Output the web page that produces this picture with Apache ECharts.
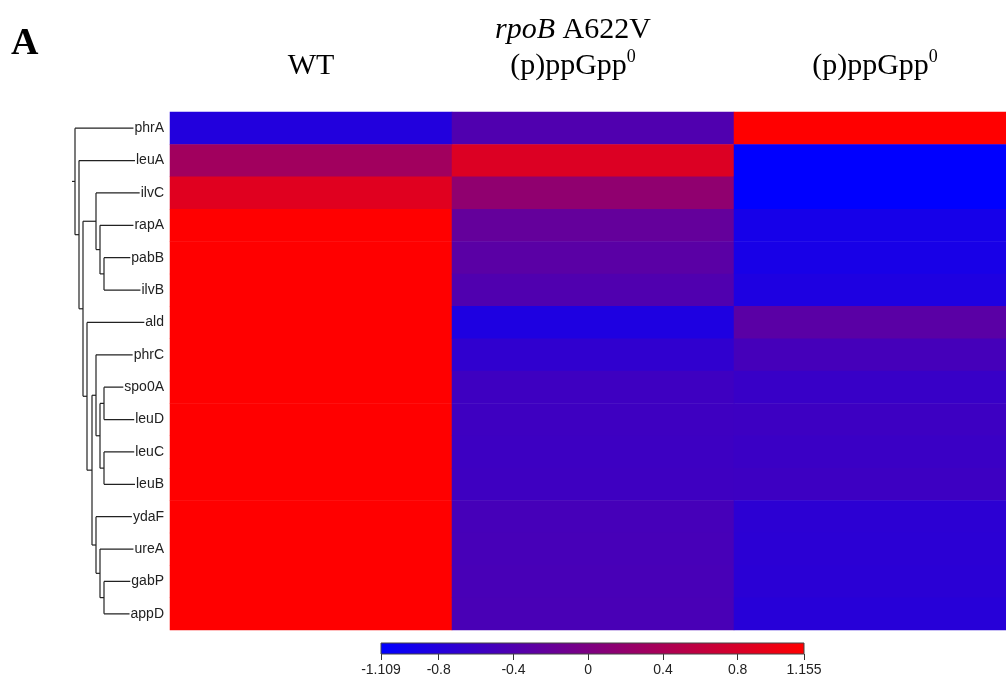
<!DOCTYPE html>
<html>
<head>
<meta charset="utf-8">
<script src="https://cdn.jsdelivr.net/npm/echarts@6/dist/echarts.min.js"></script>
<style>
  html, body { margin: 0; padding: 0; background: #fff; }
  #heat { width: 1006px; height: 681px; }
</style>
</head>
<body>
<div id="heat"></div>
<script>
// genes, top to bottom
var genes = ["phrA", "leuA", "ilvC", "rapA", "pabB", "ilvB", "ald", "phrC",
  "spo0A", "leuD", "leuC", "leuB", "ydaF", "ureA", "gabP", "appD"];
var strains = ["WT", "rpoB", "ppGpp0"];
var strainLabels = ["WT", "{i|rpoB} A622V\n(p)ppGpp{s|0}", "(p)ppGpp{s|0}"];

// expression values per strain (same order as genes)
var wtVals = [-0.81, 0.32, 0.88, 1.155, 1.155, 1.155, 1.155, 1.155,
  1.155, 1.155, 1.155, 1.155, 1.155, 1.155, 1.155, 1.155];
var rpoBVals = [-0.40, 0.84, 0.17, -0.22, -0.31, -0.40, -0.84, -0.68,
  -0.56, -0.56, -0.57, -0.56, -0.49, -0.48, -0.47, -0.46];
var ppGppVals = [1.155, -1.109, -1.109, -0.91, -0.90, -0.84, -0.31, -0.50,
  -0.61, -0.57, -0.59, -0.57, -0.72, -0.73, -0.74, -0.76];

var vMin = -1.109, vMax = 1.155;
var barTicks = [-1.109, -0.8, -0.4, 0, 0.4, 0.8, 1.155];

// row dendrogram, scipy style: leaves 0..15, clusters numbered from 16
var merges = [
  [4, 5, 0.61], [3, 16, 0.65], [2, 17, 0.69],
  [8, 9, 0.61], [10, 11, 0.61], [19, 20, 0.65], [7, 21, 0.69],
  [14, 15, 0.61], [13, 23, 0.65], [12, 24, 0.69],
  [22, 25, 0.73], [6, 26, 0.78], [18, 27, 0.82], [1, 28, 0.86], [0, 29, 0.90]
];
var rootStub = 0.93;

var heatData = [];
[wtVals, rpoBVals, ppGppVals].forEach(function (arr, c) {
  arr.forEach(function (v, r) {
    heatData.push([c, r, v]);
  });
});

// turn merges into line segments [h1, y1, h2, y2]
var nodeY = genes.map(function (g, i) { return i; });
var nodeH = genes.map(function () { return 0; });
var segs = [];
merges.forEach(function (m) {
  var a = m[0], b = m[1], h = m[2];
  segs.push([nodeH[a], nodeY[a], h, nodeY[a]]);
  segs.push([nodeH[b], nodeY[b], h, nodeY[b]]);
  segs.push([h, nodeY[a], h, nodeY[b]]);
  nodeY.push((nodeY[a] + nodeY[b]) / 2);
  nodeH.push(h);
});
var root = nodeY.length - 1;
segs.push([nodeH[root], nodeY[root], rootStub, nodeY[root]]);

var serif = '"Liberation Serif", "Times New Roman", serif';
var sans = '"Liberation Sans", Arial, sans-serif';

var myChart = echarts.init(document.getElementById("heat"));
var option = {
  animation: false,
  graphic: [
    {
      type: "text",
      left: 11,
      top: 25,
      style: { text: "A", font: "bold 38px " + serif, fill: "#000" },
    },
  ],
  grid: [
    // the third column runs past the right edge of the picture
    { left: 170, top: 112, height: 518, width: 846, outerBoundsMode: "none" },
    { left: 55, top: 112, height: 518, width: 110, outerBoundsMode: "none" },
    { left: 381, top: 643, height: 11, width: 423, outerBoundsMode: "none" },
  ],
  xAxis: [
    {
      type: "category",
      gridIndex: 0,
      position: "top",
      data: [
        strains[0],
        { value: strains[1], textStyle: { padding: [0, 40, 0, 0] } },
        strains[2],
      ],
      axisLine: { show: false },
      axisTick: { show: false },
      axisLabel: {
        margin: 28,
        fontFamily: serif,
        fontSize: 30,
        lineHeight: 36,
        color: "#000",
        formatter: function (v, i) {
          return strainLabels[i];
        },
        rich: {
          i: { fontFamily: serif, fontSize: 30, fontStyle: "italic", color: "#000", lineHeight: 36 },
          s: { fontFamily: serif, fontSize: 18, color: "#000", verticalAlign: "top", lineHeight: 22 },
        },
      },
    },
    { type: "value", gridIndex: 1, min: 0, max: 1.1, inverse: true, show: false },
    {
      type: "value",
      gridIndex: 2,
      min: vMin,
      max: vMax,
      axisLine: { show: false },
      splitLine: { show: false },
      axisTick: {
        customValues: barTicks,
        length: 6,
        lineStyle: { color: "#333" },
      },
      axisLabel: {
        customValues: barTicks,
        margin: 9,
        fontFamily: sans,
        fontSize: 14,
        color: "#222",
        formatter: function (v) {
          return String(+Number(v).toFixed(3));
        },
      },
    },
  ],
  yAxis: [
    {
      type: "category",
      gridIndex: 0,
      inverse: true,
      data: genes,
      z: 5,
      axisLine: { show: false },
      axisTick: { show: false },
      axisLabel: {
        margin: 5,
        fontFamily: sans,
        fontSize: 14,
        color: "#222",
        backgroundColor: "#fff",
        padding: [0, 1, 0, 1],
      },
    },
    { type: "value", gridIndex: 1, min: -0.5, max: 15.5, inverse: true, show: false },
    { type: "value", gridIndex: 2, min: 0, max: 1, show: false },
  ],
  visualMap: {
    show: false,
    seriesIndex: 0,
    min: vMin,
    max: vMax,
    inRange: { color: ["#0000ff", "#ff0000"] },
  },
  series: [
    {
      type: "heatmap",
      xAxisIndex: 0,
      yAxisIndex: 0,
      data: heatData,
      itemStyle: { borderWidth: 0 },
    },
    {
      type: "custom",
      xAxisIndex: 1,
      yAxisIndex: 1,
      z: 2,
      data: segs,
      encode: { x: [0, 2], y: [1, 3] },
      renderItem: function (params, api) {
        var p1 = api.coord([api.value(0), api.value(1)]);
        var p2 = api.coord([api.value(2), api.value(3)]);
        return {
          type: "line",
          shape: { x1: p1[0], y1: p1[1], x2: p2[0], y2: p2[1] },
          style: { stroke: "#222", lineWidth: 1.2 },
        };
      },
    },
    {
      type: "custom",
      xAxisIndex: 2,
      yAxisIndex: 2,
      data: [[vMin, vMax]],
      encode: { x: [0, 1] },
      renderItem: function (params, api) {
        var p1 = api.coord([api.value(0), 1]);
        var p2 = api.coord([api.value(1), 0]);
        return {
          type: "rect",
          shape: { x: p1[0], y: p1[1], width: p2[0] - p1[0], height: p2[1] - p1[1] },
          style: {
            fill: new echarts.graphic.LinearGradient(0, 0, 1, 0, [
              { offset: 0, color: "#0000ff" },
              { offset: 1, color: "#ff0000" },
            ]),
            stroke: "#444",
            lineWidth: 1,
          },
        };
      },
    },
  ],
};
myChart.setOption(option);
</script>
</body>
</html>
